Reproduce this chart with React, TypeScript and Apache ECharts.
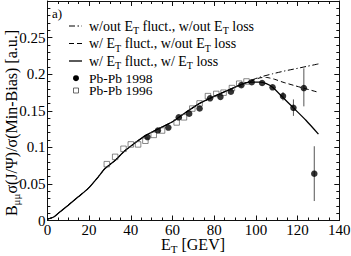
import React, { useEffect, useRef } from "react";
import * as echarts from "echarts";

// ---- data ----
// shared theory curve (all three coincide up to ~95 GeV)
const baseE = [0, 2.8, 5.2, 10, 14.8, 19.6, 24.4, 27.6, 32.4, 37, 42, 47, 53, 60, 66, 73, 81, 89, 94];
const baseY = [0.002, 0.0044, 0.0098, 0.021, 0.0324, 0.0439, 0.0597, 0.071, 0.082, 0.095, 0.106, 0.116, 0.125, 0.135, 0.147, 0.16, 0.171, 0.181, 0.187];
// w/ ET fluct., w/ ET loss (solid)
const lossE = [98, 102, 105, 108, 113, 118, 124, 130];
const lossY = [0.189, 0.189, 0.187, 0.182, 0.168, 0.154, 0.137, 0.118];
// w/ ET fluct., w/out ET loss (dashed)
const fluctE = [98, 102, 105, 109, 113, 119, 124, 130];
const fluctY = [0.191, 0.195, 0.1955, 0.193, 0.189, 0.184, 0.18, 0.1752];
// w/out ET fluct., w/out ET loss (dash-dot)
const noFluctE = [98, 102, 108, 114, 120, 125, 130];
const noFluctY = [0.192, 0.196, 0.2005, 0.2045, 0.208, 0.211, 0.214];

// Pb-Pb 1998 (filled circles)
const e98 = [48, 53, 58, 63, 68, 73, 78, 83, 88, 93, 98, 103, 108, 113, 118, 123, 128];
const y98 = [0.114, 0.123, 0.127, 0.141, 0.146, 0.153, 0.167, 0.169, 0.176, 0.185, 0.189, 0.188, 0.182, 0.17, 0.154, 0.181, 0.064];
// error bars [E, low, high]
const errE = [113, 118, 123, 128];
const errLo = [0.164, 0.143, 0.156, 0.0266];
const errHi = [0.1755, 0.1655, 0.208, 0.1015];

// Pb-Pb 1996 (open squares)
const e96 = [28.5, 32.5, 36.5, 40, 43.5, 47, 51, 55, 62, 65.5, 69.5, 73, 77, 81, 84.5, 88.5, 92, 95.5];
const y96 = [0.077, 0.087, 0.098, 0.104, 0.104, 0.109, 0.117, 0.123, 0.134, 0.141, 0.153, 0.16, 0.17, 0.173, 0.1747, 0.181, 0.187, 0.19];

const xTicks = { min: 0, max: 140, interval: 20 };
const yTicks = { min: 0, max: 0.3, interval: 0.05 };

const FONT = "'Liberation Serif', 'Times New Roman', serif";

function pairs(xs: number[], ys: number[]) {
  return xs.map((x, i) => [x, ys[i]]);
}

export default function App() {
  const ref = useRef<HTMLDivElement>(null);
  useEffect(() => {
    document.body.style.margin = "0";
    if (!ref.current) return;
    const chart = echarts.init(ref.current, undefined, { renderer: "svg" });

    const sub = { fontSize: 10, fontFamily: FONT, color: "#000", padding: [9, 0, 0, 0], lineHeight: 14 };
    const norm = { fontSize: 14, fontFamily: FONT, color: "#000", lineHeight: 14 };
    const legendRows = [
      { y: 26, text: "{n|w/out E}{s|T}{n| fluct., w/out E}{s|T}{n| loss}", dash: [6, 2.5, 1.5, 2.5] },
      { y: 43.5, text: "{n|w/ E}{s|T}{n| fluct., w/out E}{s|T}{n| loss}", dash: [5, 3] },
      { y: 61, text: "{n|w/ E}{s|T}{n| fluct., w/ E}{s|T}{n| loss}", dash: null },
    ];

    const graphic: any[] = [];
    legendRows.forEach((r) => {
      graphic.push({
        type: "line",
        shape: { x1: 69, y1: r.y, x2: 82, y2: r.y },
        style: { stroke: "#000", lineWidth: r.dash ? 1 : 1.3, lineDash: r.dash || undefined },
      });
      graphic.push({
        type: "text",
        x: 89,
        y: r.y,
        style: { text: r.text, rich: { n: norm, s: sub }, verticalAlign: "middle", align: "left" },
      });
    });
    graphic.push({ type: "circle", shape: { cx: 76, cy: 78.2, r: 3 }, style: { fill: "#000" } });
    graphic.push({
      type: "text", x: 89, y: 78.2,
      style: { text: "Pb-Pb 1998", fontFamily: FONT, fontSize: 13.5, fill: "#000", verticalAlign: "middle", lineHeight: 11 },
    });
    graphic.push({ type: "rect", shape: { x: 73.5, y: 88, width: 5, height: 5 }, style: { fill: "none", stroke: "#444", lineWidth: 0.8 } });
    graphic.push({
      type: "text", x: 89, y: 90.5,
      style: { text: "Pb-Pb 1996", fontFamily: FONT, fontSize: 13.5, fill: "#000", verticalAlign: "middle", lineHeight: 11 },
    });
    graphic.push({
      type: "text", x: 52, y: 13,
      style: { text: "a)", fontFamily: FONT, fontSize: 13, fill: "#000", verticalAlign: "middle" },
    });
    // axis titles
    graphic.push({
      type: "text", x: 193, y: 244.5,
      style: {
        text: "{n|E}{s|T}{n| [GEV]}",
        rich: { n: { ...norm, fontSize: 16, lineHeight: 12 }, s: { ...sub, fontSize: 11, lineHeight: 12 } },
        align: "center", verticalAlign: "middle",
      },
    });
    graphic.push({
      type: "text", x: 11, y: 123, rotation: Math.PI / 2,
      style: {
        text: "{n|B}{s|μμ}{n|σ(J/Ψ)/σ(Min-Bias) [a.u.]}",
        rich: { n: { ...norm, fontSize: 16, lineHeight: 16 }, s: { ...sub, fontSize: 11, lineHeight: 16 } },
        align: "center", verticalAlign: "middle",
      },
    });

    const axisCommon = {
      type: "value" as const,
      axisLine: { show: true, onZero: false, lineStyle: { color: "#111", width: 1 } },
      axisTick: { show: true, inside: true, length: 5, lineStyle: { color: "#111" } },
      minorTick: { show: true, length: 3, lineStyle: { color: "#111" } },
      splitLine: { show: false },
      minorSplitLine: { show: false },
    };
    const labelStyle = { fontFamily: FONT, fontSize: 15, color: "#000" };

    chart.setOption({
      animation: false,
      grid: { left: 47.4, right: 11.7, top: 1, bottom: 35.5, containLabel: false, outerBoundsMode: "none" },
      xAxis: [
        { ...axisCommon, ...xTicks, position: "bottom", minorTick: { ...axisCommon.minorTick, splitNumber: 4 }, axisLabel: { ...labelStyle, margin: 2 } },
        { ...axisCommon, ...xTicks, position: "top", minorTick: { ...axisCommon.minorTick, splitNumber: 4 }, axisLabel: { show: false } },
      ],
      yAxis: [
        { ...axisCommon, ...yTicks, position: "left", minorTick: { ...axisCommon.minorTick, splitNumber: 5 }, axisLabel: { ...labelStyle, margin: 2, showMaxLabel: false } },
        { ...axisCommon, ...yTicks, position: "right", minorTick: { ...axisCommon.minorTick, splitNumber: 5 }, axisLabel: { show: false } },
      ],
      graphic,
      series: [
        {
          type: "line", smooth: 0.2, showSymbol: false,
          data: pairs(baseE.concat(noFluctE), baseY.concat(noFluctY)),
          lineStyle: { color: "#000", width: 1, type: [6, 2.5, 1.5, 2.5] }, z: 2,
        },
        {
          type: "line", smooth: 0.2, showSymbol: false,
          data: pairs(baseE.concat(fluctE), baseY.concat(fluctY)),
          lineStyle: { color: "#000", width: 1, type: [5, 3] }, z: 2,
        },
        {
          type: "line", smooth: 0.2, showSymbol: false,
          data: pairs(baseE.concat(lossE), baseY.concat(lossY)),
          lineStyle: { color: "#000", width: 1.3 }, z: 3,
        },
        {
          type: "custom",
          data: errE.map((e, i) => [e, errLo[i], errHi[i]]),
          encode: { x: 0, y: [1, 2] },
          renderItem: (params: any, api: any) => {
            const p1 = api.coord([api.value(0), api.value(1)]);
            const p2 = api.coord([api.value(0), api.value(2)]);
            return {
              type: "line",
              shape: { x1: p1[0], y1: p1[1], x2: p2[0], y2: p2[1] },
              style: { stroke: "#555", lineWidth: 1 },
            };
          },
          z: 4,
        },
        {
          type: "scatter", symbol: "rect", symbolSize: 5.5,
          data: pairs(e96, y96),
          itemStyle: { color: "rgba(0,0,0,0)", borderColor: "#444", borderWidth: 0.8 }, z: 5,
        },
        {
          type: "scatter", symbol: "circle", symbolSize: 6.5,
          data: pairs(e98, y98),
          itemStyle: { color: "#000" }, z: 6,
        },
      ],
    });
    return () => chart.dispose();
  }, []);
  return <div ref={ref} style={{ width: 351, height: 256 }} />;
}
